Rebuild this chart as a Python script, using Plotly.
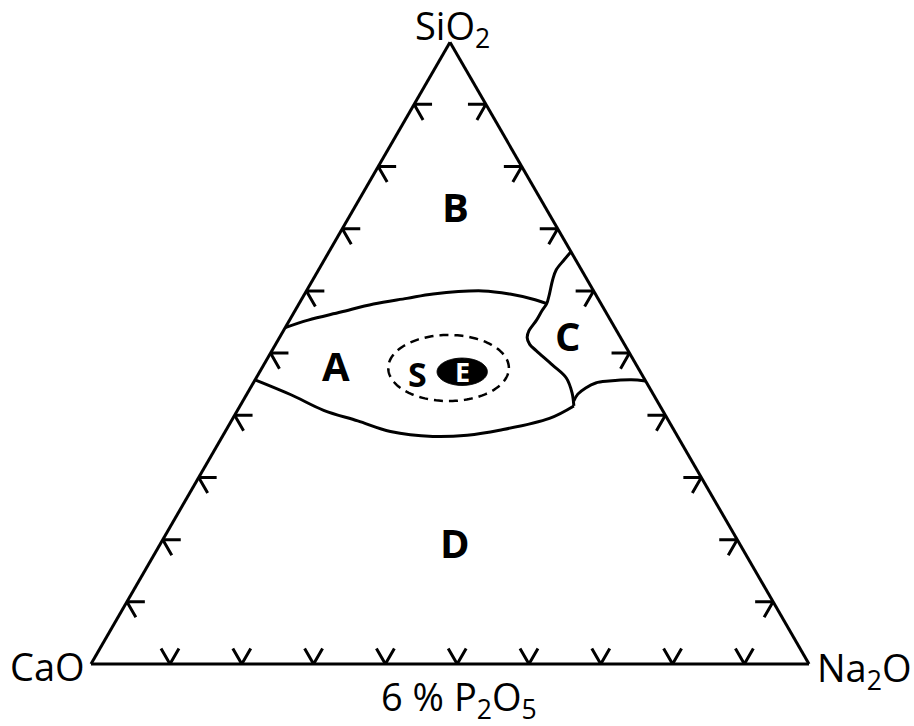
import numpy as np
import plotly.graph_objects as go

# ---- Field boundaries, compositions in wt% (SiO2, CaO, Na2O) ----
# upper limit of field A (towards B)
upper_a_sio2 = [54.1, 55.3, 56.6, 57.9, 58.8, 59.5, 60.0, 59.5, 58.7, 58.0]
upper_a_cao = [45.9, 42.1, 36.9, 31.7, 26.6, 22.6, 15.4, 11.9, 9.2, 7.6]
upper_a_na2o = [0.0, 2.6, 6.5, 10.4, 14.6, 17.9, 24.6, 28.6, 32.1, 34.4]

# western limit of field C
c_west_sio2 = [66.3, 65.0, 63.4, 61.8, 59.5, 57.9, 56.9, 55.3, 53.6, 52.5,
               51.4, 50.4, 48.1, 46.0, 43.6, 41.5]
c_west_cao = [0.0, 1.6, 3.5, 4.8, 6.4, 7.6, 8.7, 10.3, 12.2, 13.0,
              13.2, 12.8, 11.7, 10.8, 11.2, 12.0]
c_west_na2o = [33.7, 33.4, 33.1, 33.4, 34.1, 34.5, 34.4, 34.4, 34.2, 34.5,
               35.4, 36.8, 40.2, 43.2, 45.2, 46.5]

# southern limit of field C
c_south_sio2 = [42.3, 43.4, 44.4, 45.2, 45.5, 45.7, 45.5]
c_south_cao = [11.6, 10.5, 8.9, 7.1, 5.1, 1.9, 0.0]
c_south_na2o = [46.1, 46.1, 46.7, 47.7, 49.4, 52.4, 54.5]

# lower limit of field A (towards D)
lower_a_sio2 = [45.7, 43.3, 40.8, 39.1, 37.4, 36.6, 36.8, 37.6, 39.5, 41.5]
lower_a_cao = [54.3, 50.5, 47.2, 43.3, 39.6, 34.1, 29.2, 24.3, 16.4, 12.0]
lower_a_na2o = [0.0, 6.2, 12.0, 17.6, 23.0, 29.3, 34.0, 38.1, 44.1, 46.5]

# S domain (dashed) and E domain (filled): centre composition and half-widths
s_centre = (47.6, 26.4, 26.0)
s_half = (0.084, 0.046)
e_centre = (47.0, 24.8, 28.2)
e_half = (0.035, 0.019)

# field names and the composition each is written at
field_names = ["A", "B", "C", "D"]
field_sio2 = [48.0, 73.6, 52.8, 19.6]
field_cao = [41.9, 12.5, 7.2, 39.5]
field_na2o = [10.1, 13.9, 40.0, 40.9]
s_label = (46.7, 31.2, 22.1)

# edge graduations (fractions)
grad = [0.1, 0.2, 0.3, 0.4, 0.5, 0.6, 0.7, 0.8, 0.9]

W, H = 914, 726
SIDE = 718            # triangle side in px
X0, Y0 = 91, 62       # lower-left corner of the triangle (px from left / bottom)
FONT = "Open Sans"
LW = 3
ARM = 0.025
BOTTOM_SHIFT = 0.01
R3 = np.sqrt(3) / 2


def ellipse(centre, half, n=160):
    a0, b0, c0 = (v / 100 for v in centre)
    x0, y0 = c0 + a0 / 2, a0 * R3
    t = np.linspace(0, 2 * np.pi, n)
    x = x0 + half[0] * np.cos(t)
    y = y0 + half[1] * np.sin(t)
    a = y / R3
    c = x - a / 2
    b = 1 - a - c
    return a * 100, b * 100, c * 100


def to_paper(sio2, cao, na2o):
    tot = sio2 + cao + na2o
    a, c = sio2 / tot, na2o / tot
    return (X0 + (c + a / 2) * SIDE) / W, (Y0 + a * R3 * SIDE) / H


def chevrons():
    A, B, C = [], [], []

    def add(pts):
        for p in pts:
            A.append(p[0] * 100)
            B.append(p[1] * 100)
            C.append(p[2] * 100)
        A.append(None)
        B.append(None)
        C.append(None)

    d = ARM
    for g in grad:
        # left edge (CaO - SiO2): "<"
        a = g
        add([(a, 1 - a - d, d), (a, 1 - a, 0), (a - d, 1 - a, d)])
        # right edge (Na2O - SiO2): ">"
        add([(a, d, 1 - a - d), (a, 0, 1 - a), (a - d, d, 1 - a)])
        # bottom edge (CaO - Na2O): "V"
        c = g + BOTTOM_SHIFT
        add([(d, 1 - c, c - d), (0, 1 - c, c), (d, 1 - c - d, c)])
    return A, B, C


fig = go.Figure()

line = dict(color="black", width=LW, shape="spline", smoothing=1.0)
for sa, sb, sc in [
    (upper_a_sio2, upper_a_cao, upper_a_na2o),
    (c_west_sio2, c_west_cao, c_west_na2o),
    (c_south_sio2, c_south_cao, c_south_na2o),
    (lower_a_sio2, lower_a_cao, lower_a_na2o),
]:
    fig.add_trace(go.Scatterternary(a=sa, b=sb, c=sc, mode="lines",
                                    line=line, hoverinfo="skip"))

ca, cb, cc = chevrons()
fig.add_trace(go.Scatterternary(a=ca, b=cb, c=cc, mode="lines",
                                line=dict(color="black", width=LW),
                                connectgaps=False, hoverinfo="skip"))

sa, sb, sc = ellipse(s_centre, s_half)
fig.add_trace(go.Scatterternary(a=sa, b=sb, c=sc, mode="lines",
                                line=dict(color="black", width=2.5,
                                          dash="9px,6px"),
                                hoverinfo="skip"))

ea, eb, ec = ellipse(e_centre, e_half)
fig.add_trace(go.Scatterternary(a=ea, b=eb, c=ec, mode="lines", fill="toself",
                                fillcolor="black",
                                line=dict(color="black", width=1),
                                hoverinfo="skip"))

axis = dict(showticklabels=False, ticks="", showgrid=False,
            linecolor="black", linewidth=LW, title=dict(text=""))

fig.update_layout(
    width=W, height=H,
    margin=dict(l=0, r=0, t=0, b=0),
    paper_bgcolor="white",
    showlegend=False,
    ternary=dict(
        sum=100,
        bgcolor="white",
        domain=dict(x=[X0 / W, (X0 + SIDE) / W],
                    y=[Y0 / H, (Y0 + SIDE * R3) / H]),
        aaxis=axis, baxis=axis, caxis=axis,
    ),
    font=dict(family=FONT, color="black"),
)

# field labels
for name, s, ca_, n in zip(field_names, field_sio2, field_cao, field_na2o):
    px, py = to_paper(s, ca_, n)
    fig.add_annotation(text=f"<b>{name}</b>", x=px, y=py, xref="paper",
                       yref="paper", showarrow=False, xanchor="center",
                       yanchor="middle",
                       font=dict(family=FONT, size=40, color="black"))
px, py = to_paper(*s_label)
fig.add_annotation(text="<b>S</b>", x=px, y=py, xref="paper", yref="paper",
                   showarrow=False, xanchor="center", yanchor="middle",
                   font=dict(family=FONT, size=34, color="black"))
px, py = to_paper(*e_centre)
fig.add_annotation(text="<b>E</b>", x=px, y=py, xref="paper", yref="paper",
                   showarrow=False, xanchor="center", yanchor="middle",
                   font=dict(family=FONT, size=27, color="white"))

# oxide labels at the apices and the P2O5 level below the base
lab = dict(family=FONT, size=38, color="black")
fig.add_annotation(text="SiO<sub>2</sub>", x=452 / W, y=1 - 28 / H,
                   xref="paper", yref="paper", showarrow=False,
                   xanchor="center", yanchor="middle", font=lab)
fig.add_annotation(text="CaO", x=47 / W, y=1 - 666 / H,
                   xref="paper", yref="paper", showarrow=False,
                   xanchor="center", yanchor="middle", font=lab)
fig.add_annotation(text="Na<sub>2</sub>O", x=864 / W, y=1 - 669 / H,
                   xref="paper", yref="paper", showarrow=False,
                   xanchor="center", yanchor="middle", font=lab)
fig.add_annotation(text="6 % P<sub>2</sub>O<sub>5</sub>", x=459 / W,
                   y=1 - 698 / H, xref="paper", yref="paper",
                   showarrow=False, xanchor="center", yanchor="middle",
                   font=lab)

fig.write_html("out.html")
